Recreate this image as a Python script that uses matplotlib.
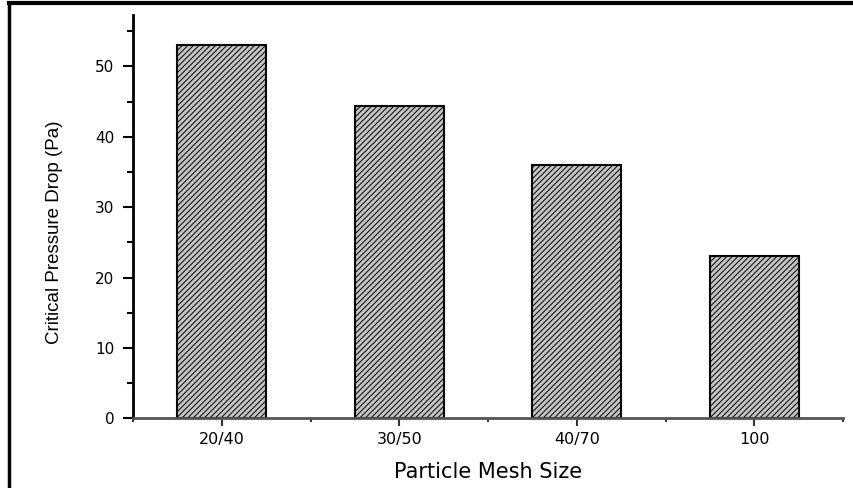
import matplotlib
matplotlib.use("Agg")
import matplotlib.pyplot as plt
from matplotlib.lines import Line2D
from matplotlib.ticker import FixedLocator, MultipleLocator

categories = ["20/40", "30/50", "40/70", "100"]
pressure_drop = [53.0, 44.3, 36.0, 23.0]

plt.rcParams["hatch.color"] = "#4a4a4a"
plt.rcParams["hatch.linewidth"] = 0.7

fig = plt.figure(figsize=(8.54, 4.88), dpi=100)
ax = fig.add_axes([133 / 854, 1 - 418.3 / 488, 710 / 854, 403.3 / 488])

positions = list(range(1, len(categories) + 1))
ax.bar(positions, pressure_drop, width=0.5, color="#c4c4c4",
       edgecolor="black", linewidth=1.5, hatch="//////", zorder=2)

ax.set_xlim(0.5, len(categories) + 0.5)
ax.set_ylim(0, 57.3)

ax.spines["top"].set_visible(False)
ax.spines["right"].set_visible(False)
ax.spines["left"].set_linewidth(2)
ax.spines["left"].set_color("black")
ax.spines["bottom"].set_linewidth(2)
ax.spines["bottom"].set_color("#555555")
ax.spines["bottom"].set_zorder(3)

ax.set_xticks(positions)
ax.set_xticklabels(categories)
ax.xaxis.set_minor_locator(FixedLocator([0.5, 1.5, 2.5, 3.5, 4.5]))
ax.yaxis.set_major_locator(MultipleLocator(10))
ax.yaxis.set_minor_locator(MultipleLocator(5))

wide_font = ["DejaVu Sans"]
for lbl in ax.get_xticklabels():
    lbl.set_fontfamily(wide_font)
    lbl.set_fontsize(11.5)
for lbl in ax.get_yticklabels():
    lbl.set_fontfamily(wide_font)
    lbl.set_fontsize(11)

ax.tick_params(axis="y", which="major", direction="out", length=7.5, width=1.5, pad=6)
ax.tick_params(axis="y", which="minor", direction="out", length=4, width=1.5)
ax.tick_params(axis="x", which="major", direction="out", length=6, width=1.5,
               pad=4, color="#333333")
ax.tick_params(axis="x", which="minor", direction="out", length=3, width=1.5,
               color="#333333")

ax.set_xlabel("Particle Mesh Size", fontsize=15, family=wide_font)
ax.set_ylabel("Critical Pressure Drop (Pa)", fontsize=13.5,
              family=["Liberation Sans", "DejaVu Sans"])
ax.xaxis.set_label_coords(0.5, -0.108)
ax.yaxis.set_label_coords(-0.098, 0.461)

# frame lines along the top and left of the figure
fig.add_artist(Line2D([9 / 854, 1], [1 - 3 / 488, 1 - 3 / 488],
                      transform=fig.transFigure, color="black", linewidth=3))
fig.add_artist(Line2D([9 / 854, 9 / 854], [0, 1 - 3 / 488],
                      transform=fig.transFigure, color="black", linewidth=2.5))

fig.savefig("out.png", dpi=100)
